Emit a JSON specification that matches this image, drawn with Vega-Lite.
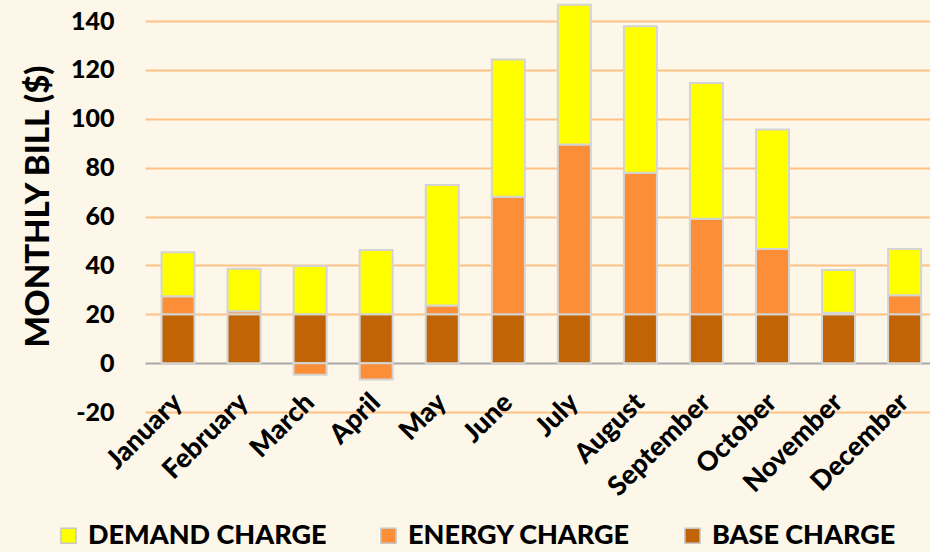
{
  "$schema": "https://vega.github.io/schema/vega-lite/v6.json",
  "width": 785,
  "height": 412,
  "autosize": {"type": "none"},
  "padding": {"left": 145, "top": 0, "right": 0, "bottom": 140},
  "background": "#fcf7e9",
  "config": {
    "view": {"stroke": null},
    "font": "Lato",
    "axis": {"labelFont": "Lato", "titleFont": "Lato", "labelFontWeight": 900, "titleFontWeight": 900, "labelColor": "#000", "titleColor": "#000"},
    "legend": {"labelFont": "Lato"}
  },
  "data": {
    "values": [
      {"month": "January", "charge": "BASE CHARGE", "ord": 1, "value": 20},
      {"month": "January", "charge": "ENERGY CHARGE", "ord": 2, "value": 7.4},
      {"month": "January", "charge": "DEMAND CHARGE", "ord": 3, "value": 18},
      {"month": "February", "charge": "BASE CHARGE", "ord": 1, "value": 20},
      {"month": "February", "charge": "ENERGY CHARGE", "ord": 2, "value": 1.2},
      {"month": "February", "charge": "DEMAND CHARGE", "ord": 3, "value": 17.4},
      {"month": "March", "charge": "BASE CHARGE", "ord": 1, "value": 20},
      {"month": "March", "charge": "ENERGY CHARGE", "ord": 2, "value": -4.8},
      {"month": "March", "charge": "DEMAND CHARGE", "ord": 3, "value": 19.7},
      {"month": "April", "charge": "BASE CHARGE", "ord": 1, "value": 20},
      {"month": "April", "charge": "ENERGY CHARGE", "ord": 2, "value": -6.7},
      {"month": "April", "charge": "DEMAND CHARGE", "ord": 3, "value": 26.3},
      {"month": "May", "charge": "BASE CHARGE", "ord": 1, "value": 20},
      {"month": "May", "charge": "ENERGY CHARGE", "ord": 2, "value": 3.6},
      {"month": "May", "charge": "DEMAND CHARGE", "ord": 3, "value": 49.3},
      {"month": "June", "charge": "BASE CHARGE", "ord": 1, "value": 20},
      {"month": "June", "charge": "ENERGY CHARGE", "ord": 2, "value": 48.1},
      {"month": "June", "charge": "DEMAND CHARGE", "ord": 3, "value": 56.2},
      {"month": "July", "charge": "BASE CHARGE", "ord": 1, "value": 20},
      {"month": "July", "charge": "ENERGY CHARGE", "ord": 2, "value": 69.5},
      {"month": "July", "charge": "DEMAND CHARGE", "ord": 3, "value": 57.2},
      {"month": "August", "charge": "BASE CHARGE", "ord": 1, "value": 20},
      {"month": "August", "charge": "ENERGY CHARGE", "ord": 2, "value": 57.9},
      {"month": "August", "charge": "DEMAND CHARGE", "ord": 3, "value": 60},
      {"month": "September", "charge": "BASE CHARGE", "ord": 1, "value": 20},
      {"month": "September", "charge": "ENERGY CHARGE", "ord": 2, "value": 39.1},
      {"month": "September", "charge": "DEMAND CHARGE", "ord": 3, "value": 55.5},
      {"month": "October", "charge": "BASE CHARGE", "ord": 1, "value": 20},
      {"month": "October", "charge": "ENERGY CHARGE", "ord": 2, "value": 26.7},
      {"month": "October", "charge": "DEMAND CHARGE", "ord": 3, "value": 48.9},
      {"month": "November", "charge": "BASE CHARGE", "ord": 1, "value": 20},
      {"month": "November", "charge": "ENERGY CHARGE", "ord": 2, "value": 0.6},
      {"month": "November", "charge": "DEMAND CHARGE", "ord": 3, "value": 17.5},
      {"month": "December", "charge": "BASE CHARGE", "ord": 1, "value": 20},
      {"month": "December", "charge": "ENERGY CHARGE", "ord": 2, "value": 7.8},
      {"month": "December", "charge": "DEMAND CHARGE", "ord": 3, "value": 18.9}
    ]
  },
  "layer": [
    {
      "mark": {"type": "bar", "stroke": "#d4d4d4", "strokeWidth": 2},
      "encoding": {
        "x": {
          "field": "month", "type": "nominal", "sort": null,
          "scale": {"paddingInner": 0.5, "paddingOuter": 0.1925, "align": 0.65},
          "axis": {"title": null, "labelAngle": -45, "labelAlign": "right", "labelBaseline": "middle", "labelPadding": -14, "labelFontSize": 27, "ticks": false, "domain": false, "grid": false}
        },
        "y": {
          "field": "value", "type": "quantitative", "stack": "zero",
          "scale": {"domain": [-20, 148.6], "nice": false},
          "axis": {
            "title": "MONTHLY BILL ($)", "titleFontSize": 33, "titlePadding": 15,
            "values": [-20, 0, 20, 40, 60, 80, 100, 120, 140],
            "labelExpr": "datum.value < 0 ? '-' + abs(datum.value) : datum.label",
            "labelFontSize": 25, "labelPadding": 31, "ticks": false, "domain": false,
            "grid": true, "gridColor": {"condition": {"test": "datum.value === 0", "value": "#a8a8a8"}, "value": "#fdc185"}, "gridWidth": 2, "gridOpacity": 1
          }
        },
        "color": {
          "field": "charge", "type": "nominal",
          "scale": {"domain": ["DEMAND CHARGE", "ENERGY CHARGE", "BASE CHARGE"], "range": ["#ffff00", "#fb8e37", "#c06406"]},
          "legend": {
            "title": null, "orient": "none", "direction": "horizontal", "legendX": -90, "legendY": 522,
            "symbolType": "square", "symbolSize": 230, "symbolStrokeColor": "#c8c8c8", "symbolStrokeWidth": 1.5,
            "labelFontSize": 27, "labelFontWeight": 900, "labelColor": "#000", "labelOffset": 6, "columnPadding": 48, "labelLimit": 400
          }
        },
        "order": {"field": "ord", "type": "quantitative"}
      }
    }
  ]
}
